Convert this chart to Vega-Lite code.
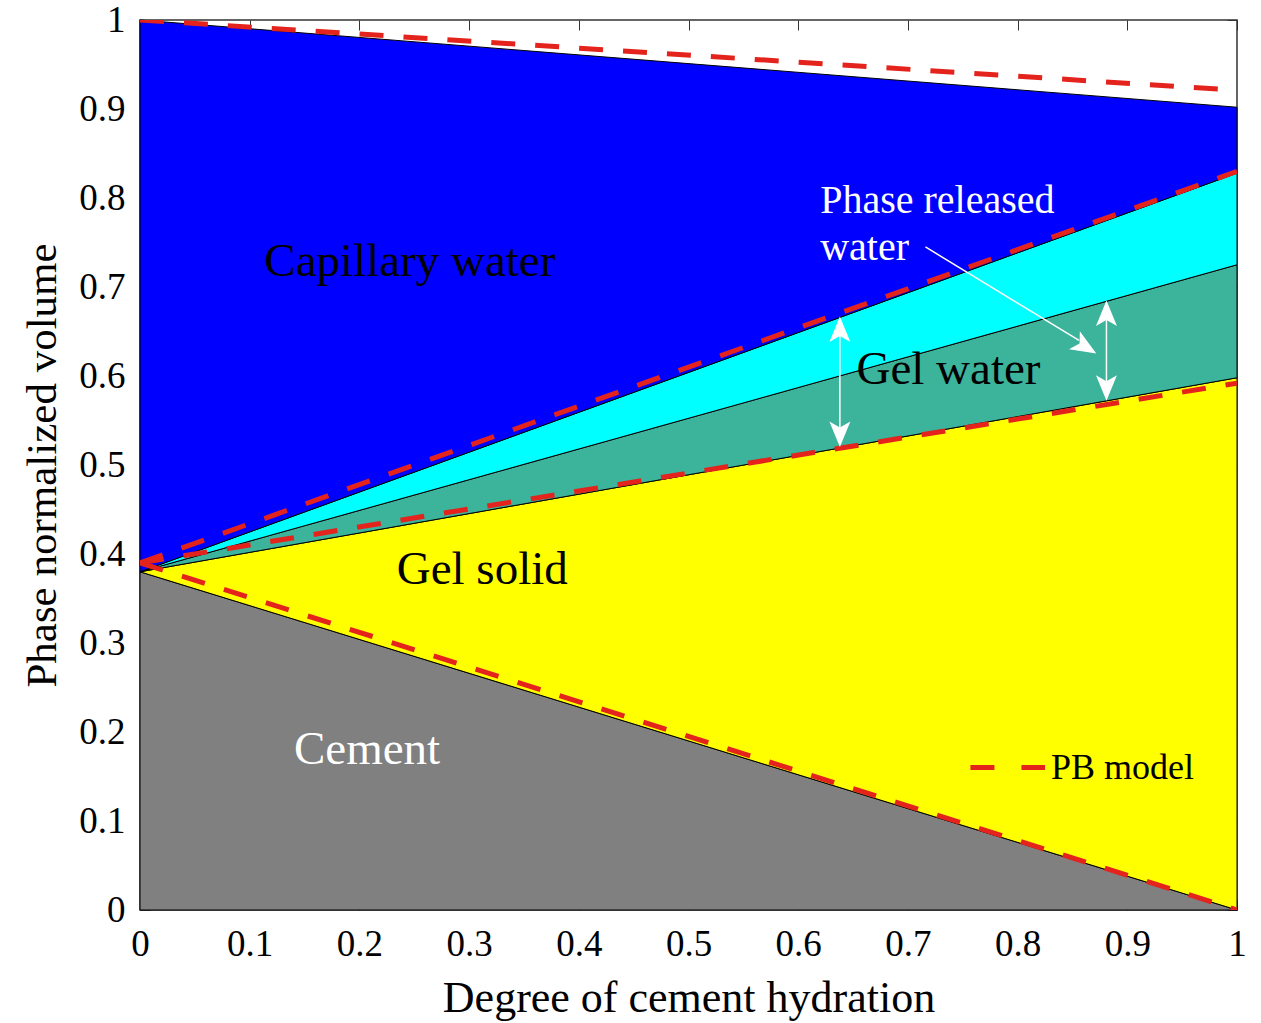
{
  "$schema": "https://vega.github.io/schema/vega-lite/v6.json",
  "width": 1097,
  "height": 890,
  "autosize": {"type": "none"},
  "padding": {"left": 140, "top": 20, "right": 24, "bottom": 113},
  "background": "white",
  "config": {
    "view": {"stroke": "#333333", "strokeWidth": 1.5},
    "font": "Liberation Serif",
    "axis": {"labelFont": "Liberation Serif", "titleFont": "Liberation Serif", "labelColor": "black", "titleColor": "black", "titleFontWeight": "normal", "grid": false, "domain": false, "tickColor": "#333333", "labelFlush": false}
  },
  "datasets": {
    "phases": [
      {"phase": "Cement", "x": 0, "lo": 0, "hi": 0.38},
      {"phase": "Cement", "x": 1, "lo": 0, "hi": 0},
      {"phase": "Gel solid", "x": 0, "lo": 0.38, "hi": 0.38},
      {"phase": "Gel solid", "x": 1, "lo": 0, "hi": 0.598},
      {"phase": "Gel water", "x": 0, "lo": 0.38, "hi": 0.38},
      {"phase": "Gel water", "x": 1, "lo": 0.598, "hi": 0.725},
      {"phase": "Phase released water", "x": 0, "lo": 0.38, "hi": 0.38},
      {"phase": "Phase released water", "x": 1, "lo": 0.725, "hi": 0.828},
      {"phase": "Capillary water", "x": 0, "lo": 0.38, "hi": 1.0},
      {"phase": "Capillary water", "x": 1, "lo": 0.828, "hi": 0.902}
    ],
    "pb": [
      {"curve": "top", "x": 0, "y": 1.0},
      {"curve": "top", "x": 1, "y": 0.921},
      {"curve": "released", "x": 0, "y": 0.39},
      {"curve": "released", "x": 1, "y": 0.83},
      {"curve": "solid", "x": 0, "y": 0.39},
      {"curve": "solid", "x": 1, "y": 0.592},
      {"curve": "cement", "x": 0, "y": 0.39},
      {"curve": "cement", "x": 1, "y": 0.0}
    ],
    "labels": [
      {"text": "Capillary water", "x": 0.246, "y": 0.728, "color": "black"},
      {"text": "Gel water", "x": 0.737, "y": 0.607, "color": "black"},
      {"text": "Gel solid", "x": 0.312, "y": 0.382, "color": "black"},
      {"text": "Cement", "x": 0.207, "y": 0.18, "color": "white"}
    ],
    "whitelabels": [
      {"text": "Phase released", "x": 0.62, "y": 0.797},
      {"text": "water", "x": 0.62, "y": 0.744}
    ],
    "arrows": [
      {"id": "a", "x": 0.638, "y": 0.535, "x2": 0.638, "y2": 0.65},
      {"id": "b", "x": 0.881, "y": 0.585, "x2": 0.881, "y2": 0.671},
      {"id": "c", "x": 0.716, "y": 0.745, "x2": 0.856, "y2": 0.64}
    ],
    "heads": [
      {"x": 0.638, "y": 0.65, "dir": 0},
      {"x": 0.638, "y": 0.537, "dir": 180},
      {"x": 0.881, "y": 0.668, "dir": 0},
      {"x": 0.881, "y": 0.589, "dir": 180},
      {"x": 0.86, "y": 0.634, "dir": 121}
    ],
    "legend": [
      {"x": 0.757, "x2": 0.825, "y": 0.16, "label": "PB model"}
    ]
  },
  "resolve": {"scale": {"x": "independent", "y": "independent"}, "axis": {"x": "independent", "y": "independent"}},
  "layer": [
    {
      "layer": [
        {
          "data": {"name": "phases"},
          "mark": {"type": "area", "stroke": "black", "strokeWidth": 1, "opacity": 1},
          "encoding": {
            "x": {"field": "x", "type": "quantitative", "scale": {"domain": [0, 1], "nice": false},
              "axis": {"orient": "bottom", "values": [0,0.1,0.2,0.3,0.4,0.5,0.6,0.7,0.8,0.9,1], "labelExpr": "datum.value == 0 ? '0' : datum.value == 1 ? '1' : format(datum.value, '.1f')", "labelFontSize": 37, "tickSize": -10, "labelPadding": 26, "title": "Degree of cement hydration", "titleFontSize": 44, "titlePadding": 14}},
            "y": {"field": "hi", "type": "quantitative", "scale": {"domain": [0, 1], "nice": false},
              "axis": {"orient": "left", "values": [0,0.1,0.2,0.3,0.4,0.5,0.6,0.7,0.8,0.9,1], "labelExpr": "datum.value == 0 ? '0' : datum.value == 1 ? '1' : format(datum.value, '.1f')", "labelFontSize": 37, "tickSize": -10, "labelPadding": 25, "title": "Phase normalized volume", "titleFontSize": 43, "titlePadding": 14}},
            "y2": {"field": "lo"},
            "color": {"field": "phase", "type": "nominal", "legend": null,
              "scale": {"domain": ["Cement", "Gel solid", "Gel water", "Phase released water", "Capillary water"], "range": ["#808080", "#ffff00", "#3cb39b", "#00ffff", "#0000ff"]}}
          }
        },
        {
          "data": {"name": "pb"},
          "mark": {"type": "line", "color": "#e3231c", "strokeWidth": 5, "strokeDash": [24, 20], "clip": true},
          "encoding": {
            "x": {"field": "x", "type": "quantitative"},
            "y": {"field": "y", "type": "quantitative"},
            "detail": {"field": "curve"}
          }
        },
        {
          "data": {"name": "arrows"},
          "mark": {"type": "rule", "color": "white", "strokeWidth": 1.5},
          "encoding": {
            "x": {"field": "x", "type": "quantitative"},
            "y": {"field": "y", "type": "quantitative"},
            "x2": {"field": "x2"},
            "y2": {"field": "y2"}
          }
        },
        {
          "data": {"name": "heads"},
          "mark": {"type": "point", "shape": "M0,-1L0.7,0.7L0,0.3L-0.7,0.7Z", "filled": true, "color": "white", "opacity": 1, "size": 900},
          "encoding": {
            "x": {"field": "x", "type": "quantitative"},
            "y": {"field": "y", "type": "quantitative"},
            "angle": {"field": "dir", "type": "quantitative", "scale": null}
          }
        },
        {
          "data": {"name": "labels"},
          "mark": {"type": "text", "font": "Liberation Serif", "fontSize": 47, "baseline": "middle", "align": "center"},
          "encoding": {
            "x": {"field": "x", "type": "quantitative"},
            "y": {"field": "y", "type": "quantitative"},
            "text": {"field": "text"},
            "color": {"field": "color", "type": "nominal", "scale": null}
          }
        },
        {
          "data": {"name": "whitelabels"},
          "mark": {"type": "text", "font": "Liberation Serif", "fontSize": 40, "baseline": "middle", "align": "left", "color": "white"},
          "encoding": {
            "x": {"field": "x", "type": "quantitative"},
            "y": {"field": "y", "type": "quantitative"},
            "text": {"field": "text"}
          }
        },
        {
          "data": {"name": "legend"},
          "mark": {"type": "rule", "color": "#e3231c", "strokeWidth": 5, "strokeDash": [24, 27]},
          "encoding": {
            "x": {"field": "x", "type": "quantitative"},
            "x2": {"field": "x2"},
            "y": {"field": "y", "type": "quantitative"}
          }
        },
        {
          "data": {"name": "legend"},
          "mark": {"type": "text", "font": "Liberation Serif", "fontSize": 36, "baseline": "middle", "align": "left", "dx": 6, "color": "black"},
          "encoding": {
            "x": {"field": "x2", "type": "quantitative"},
            "y": {"field": "y", "type": "quantitative"},
            "text": {"field": "label"}
          }
        }
      ]
    },
    {
      "data": {"values": [{"x": 0, "y": 0}]},
      "mark": {"type": "point", "opacity": 0},
      "encoding": {
        "x": {"field": "x", "type": "quantitative", "scale": {"domain": [0, 1], "nice": false},
          "axis": {"orient": "top", "values": [0,0.1,0.2,0.3,0.4,0.5,0.6,0.7,0.8,0.9,1], "labels": false, "tickSize": -10, "title": null}},
        "y": {"field": "y", "type": "quantitative", "scale": {"domain": [0, 1], "nice": false},
          "axis": {"orient": "right", "values": [0,0.1,0.2,0.3,0.4,0.5,0.6,0.7,0.8,0.9,1], "labels": false, "tickSize": -10, "title": null}}
      }
    }
  ]
}
